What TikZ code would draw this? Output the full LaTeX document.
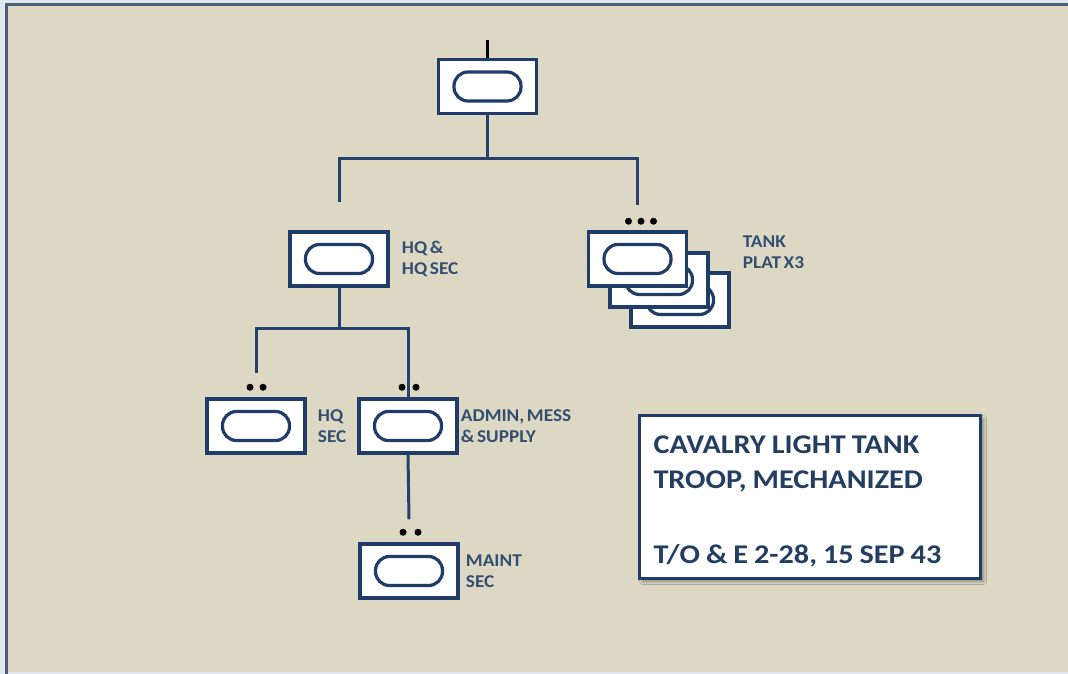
\documentclass[tikz,border=0pt]{standalone}
\usepackage{fontspec}
\setmainfont{Carlito}[WordSpace=0.6]
\usetikzlibrary{positioning, calc, shadows.blur}
\definecolor{paper}{RGB}{221, 216, 196}
\definecolor{outside}{RGB}{226, 233, 238}
\definecolor{framegray}{RGB}{74, 94, 122}
\definecolor{unitblue}{RGB}{31, 61, 104}
\definecolor{linkblue}{RGB}{38, 66, 108}
\definecolor{labelblue}{RGB}{52, 78, 112}
\definecolor{titleblue}{RGB}{36, 62, 98}

\tikzset{
  unitbox/.style={draw=unitblue, fill=white, line width=3.5pt,
    minimum width=98pt, minimum height=54pt, inner sep=0pt,
    path picture={\draw[unitblue, line width=3.2pt, rounded corners=14pt]
      ($(path picture bounding box.center)+(-33.5,-14.5)$) rectangle
      ($(path picture bounding box.center)+(33.5,14.5)$);}},
  link/.style={draw=linkblue, line width=3pt},
  unitlabel/.style={font=\bfseries\fontsize{18}{21}\selectfont\addfontfeature{FakeStretch=1.07},
    text=labelblue, align=left, inner sep=0pt},
  echdot/.style={fill=black},
  titlebox/.style={draw=unitblue, fill=white, line width=3pt,
    minimum width=341pt, minimum height=163pt, text width=313pt,
    inner xsep=14pt, inner ysep=0pt, align=left, text=titleblue,
    font=\bfseries\fontsize{27}{35}\selectfont\addfontfeature{FakeStretch=1.12},
    blur shadow={shadow xshift=3pt, shadow yshift=-3pt, shadow blur radius=3pt}}
}

\begin{document}
\begin{tikzpicture}[x=1pt, y=-1pt]
  \useasboundingbox (0,0) rectangle (1068,674);
  % paper and frame
  \fill[outside] (0,0) rectangle (1068,674);
  \fill[paper] (6,5) rectangle (1068,672);
  \draw[framegray, line width=3pt] (6,674) -- (6,5) -- (1068,5);

  % troop
  \node[unitbox] (troop) at (487.5,86.5) {};
  \coordinate (troophq) at ($(troop.north)+(0,-18)$);
  \draw[black, line width=2.5pt] (troop.north) -- (troophq);

  % first level
  \node[unitbox] (hq) at (339,259) {};
  \node[unitbox] (plat3) at (680,300) {};
  \node[unitbox] (plat2) at (659,280) {};
  \node[unitbox] (plat) at (637.5,259) {};
  \node[unitlabel, right=12pt of hq] (hqlbl) {HQ \&\\HQ SEC};
  \node[unitlabel, anchor=west] (platlbl)
    at ($(plat3.east |- plat.center)+(12,-7)$) {TANK\\PLAT X3};
  \foreach \dx in {-9,3.5,16}
    \fill[echdot] ($(plat.north)+(\dx,-9)$) circle (3.5);

  \coordinate (hqtip) at ($(hq.north)+(0,-28)$);
  \coordinate (plattip) at ($(plat.north)+(0,-25)$);
  \draw[link] (troop.south) -- ++(0,43.5) coordinate (bus1);
  \draw[link] (hqtip) |- (plattip |- bus1) -- (plattip);

  % second level
  \node[unitbox] (hqsec) at (256,426) {};
  \node[unitbox] (admin) at (408,426) {};
  \node[unitbox] (maint) at (409,571) {};
  \node[unitlabel, right=11pt of hqsec] (hqseclbl) {HQ\\SEC};
  \node[unitlabel, right=2pt of admin] (adminlbl) {ADMIN, MESS\\\& SUPPLY};
  \node[unitlabel, right=6pt of maint] (maintlbl) {MAINT\\SEC};
  \foreach \unit/\dl/\dr in {hqsec/-6/7, admin/-6/8, maint/-6/9} {
    \fill[echdot] ($(\unit.north)+(\dl,-10)$) circle (3.5);
    \fill[echdot] ($(\unit.north)+(\dr,-10)$) circle (3.5);
  }

  \coordinate (hqsectip) at ($(hqsec.north)+(0,-24)$);
  \coordinate (mainttip) at ($(maint.north)+(0,-23)$);
  \draw[link] (hq.south) -- ++(0,41) coordinate (bus2);
  \draw[link] (hqsectip) |- (admin.north |- bus2) -- (admin.north);
  \draw[link] (admin.south) -- (mainttip);

  % title
  \node[titlebox] (title) at (810,497)
    {\spaceskip=0.22em\rule{0pt}{26pt}CAVALRY LIGHT TANK\\TROOP, MECHANIZED\\[40pt]T/O \& E 2-28, 15 SEP 43};
\end{tikzpicture}
\end{document}
